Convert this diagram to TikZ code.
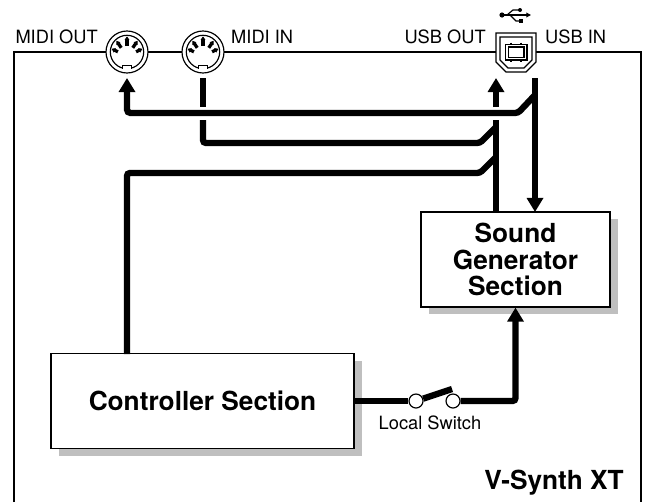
\documentclass[tikz,border=0pt]{standalone}
\usepackage{fontspec}
\setmainfont{TeX Gyre Heros}
\usepackage{xcolor}
\usepackage{tikz}
\usetikzlibrary{positioning,arrows.meta,shapes.geometric,shadows,calc}

\begin{document}
\begin{tikzpicture}[
    x=0.03cm, y=-0.03cm,
    portlabel/.style={inner sep=0pt, font=\fontsize{15.6pt}{18pt}\selectfont},
    sectionlabel/.style={inner sep=0pt, font=\fontsize{22.4pt}{22.5pt}\selectfont\bfseries},
    section/.style={draw, line width=1pt, fill=white, inner sep=0pt, align=center, minimum height=2.85cm, font=\fontsize{22.4pt}{22.5pt}\selectfont\bfseries, drop shadow={shadow xshift=0.24cm, shadow yshift=-0.21cm, fill=black!25, opacity=1}},
    frameline/.style={line width=2.1pt},
    din/.style={circle, draw, line width=1pt, fill=white, minimum size=1.26cm, inner sep=0pt},
    thin/.style={line width=1pt},
    dinpin/.style={line width=2.8pt, -{Triangle[length=3pt,width=4pt]}},
    switch/.style={circle, draw, line width=1pt, fill=white, minimum size=0.42cm, inner sep=0pt},
    wire/.style={line width=5.4pt, rounded corners=2.5pt},
    flow/.style={wire, -{Triangle[length=12pt,width=13.6pt]}},
  ]
  \useasboundingbox (0,0) rectangle (647,502);
  \draw[frameline] (14,502) |- (641,52) -- (641,502);
  \node[portlabel, anchor=base east] (midioutlabel) at (98,43) {MIDI OUT};
  \node[portlabel, anchor=base west] (midiinlabel) at (231,43) {MIDI IN};
  \node[portlabel, anchor=base east] (usboutlabel) at (486,43) {USB OUT};
  \node[portlabel, anchor=base west] (usbinlabel) at (545,43) {USB IN};
  \node[sectionlabel, anchor=base east] (synthlabel) at (624,489) {V-Synth XT};
  \foreach \jack/\jackx in {midiout/127,midiin/203}{
    \node[din] (\jack) at (\jackx,52) {};
    \begin{scope}[shift={(\jackx,52)}]
      \draw[thin] (0,0) circle (16.7);
      \foreach \ang/\rad in {-90/19.6,-55/18.6,-125/18.6,-25/17,-155/17}{
        \draw[dinpin] ($(0,4)+(\ang:10)$) -- ($(0,4)+(\ang:\rad)$);
      }
      \fill[white] (-4.3,13.3) rectangle (4.3,18);
      \draw[thin] (-4.3,16.6) -- (-4.3,13.3) -- (4.3,13.3) -- (4.3,16.6);
    \end{scope}
  }
  \node[minimum width=1.2cm, minimum height=1.17cm, inner sep=0pt] (usbport) at (516,52) {};
  \begin{scope}[shift={(516,52)}]
    \draw[thin, fill=white] (-20,-19) -- (20,-19) -- (20,10) -- (10,20) -- (-10,20) -- (-20,10) -- cycle;
    \draw[thin] (-16,-15) -- (16,-15) -- (16,8) -- (8,16) -- (-8,16) -- (-16,8) -- cycle;
    \draw[thin] (-10.5,-7.5) rectangle (11,8);
    \draw[thin] (-7.5,-5) rectangle (8,5.5);
    \foreach \tickx in {-5,5}{
      \draw[thin] (\tickx,-9.5) -- (\tickx,-7.5);
      \draw[thin] (\tickx,8) -- (\tickx,10);
    }
    \fill (-14,-37) circle (2.6);
    \draw[thin, -{Triangle[length=4pt,width=4pt]}] (-14,-37) -- (15,-37);
    \draw[thin] (-9,-37) -- (-3,-42) -- (3,-42);
    \fill (4,-42) circle (2);
    \draw[thin] (-6,-37) -- (0,-31) -- (4,-31);
    \fill (3,-33) rectangle (7,-29);
  \end{scope}
  \node[section, minimum width=5.67cm] (sound) at (515.5,259.5) {Sound\\Generator\\Section};
  \node[section, minimum width=9.09cm] (controller) at (202.5,401) {Controller Section};
  \node[switch] (switcha) at (416,401) {};
  \node[switch] (switchb) at (453,401) {};
  \node[portlabel, anchor=base] (switchlabel) at (430,429) {Local Switch};
  \coordinate (switchtip) at (452,389);
  \coordinate (usbintop) at (535,78);
  \coordinate (usbinjoin) at (535,95);
  \coordinate (usbinend) at (535,212);
  \coordinate (usbouttip) at (496,78);
  \coordinate (usboutgap) at (496,107);
  \coordinate (usboutlow) at (496,120);
  \coordinate (usboutend) at (496,212);
  \coordinate (midiouttip) at (127,78);
  \coordinate (midiintop) at (203,78);
  \coordinate (midiingap) at (203,107);
  \coordinate (midiinlow) at (203,120);
  \coordinate (midiinjoin) at (496,127);
  \coordinate (controljoin) at (496,157);
  \coordinate (controlstart) at (127,354);
  \draw[flow] (usbintop) -- (usbinend);
  \draw[flow] (usbinjoin) -- (518,113) [rounded corners=3pt] -- (127,113) -- (midiouttip);
  \draw[flow] (usboutgap) -- (usbouttip);
  \draw[wire] (usboutlow) -- (usboutend);
  \draw[wire] (midiintop) -- (midiingap);
  \draw[wire] (midiinlow) |- (480,143) [sharp corners] -- (midiinjoin);
  \draw[wire] (controlstart) |- (480,173) [sharp corners] -- (controljoin);
  \draw[wire] (controller.east) -- (switcha);
  \draw[flow] (switchb) -| (sound.south);
  \draw[wire] (switcha) -- (switchtip);
\end{tikzpicture}
\end{document}
